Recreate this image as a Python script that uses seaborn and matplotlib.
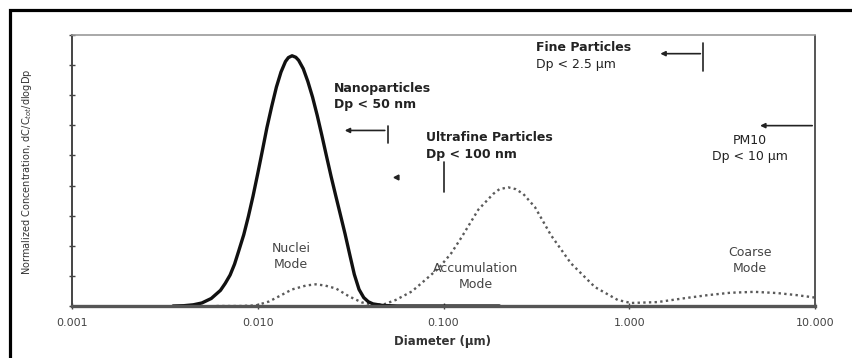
import matplotlib
matplotlib.use("Agg")
import matplotlib.pyplot as plt
from matplotlib.patches import Rectangle
import numpy as np
import pandas as pd
import seaborn as sns

# ---- data ----
nuclei_d = [0.0035, 0.0040, 0.0045, 0.0050, 0.00562, 0.0063, 0.00668, 0.0071, 0.0075, 0.0079,
            0.00841, 0.0089, 0.00944, 0.0100, 0.01059, 0.0112, 0.01189, 0.0126, 0.01334, 0.0141,
            0.01462, 0.0153, 0.01603, 0.0166, 0.01758, 0.0186, 0.01972, 0.0209, 0.02213, 0.0234,
            0.02483, 0.0263, 0.02786, 0.0295, 0.0313, 0.0331, 0.0351, 0.0372, 0.0394, 0.0417,
            0.0468, 0.0562, 0.100, 0.200]
nuclei_c = [0.0, 0.01, 0.04, 0.10, 0.25, 0.52, 0.75, 1.03, 1.39, 1.83,
            2.37, 2.97, 3.66, 4.40, 5.16, 5.92, 6.63, 7.27, 7.77, 8.12,
            8.25, 8.31, 8.26, 8.16, 7.88, 7.46, 6.94, 6.33, 5.67, 5.00,
            4.30, 3.66, 3.03, 2.40, 1.70, 1.05, 0.55, 0.28, 0.14, 0.07,
            0.02, 0.0, 0.0, 0.0]

mass_d = [0.0060, 0.0080, 0.0098, 0.0115, 0.0130, 0.0153, 0.0182, 0.0205, 0.0230, 0.0264,
          0.0310, 0.0363, 0.0420, 0.0480, 0.0553, 0.0674, 0.0762, 0.0940, 0.110, 0.125,
          0.154, 0.185, 0.200, 0.223, 0.245, 0.269, 0.311, 0.379, 0.485, 0.653,
          0.867, 1.02, 1.42, 1.99, 2.64, 3.50, 4.71, 6.25, 8.00, 10.0]
mass_c = [0.0, 0.0, 0.02, 0.15, 0.32, 0.55, 0.68, 0.72, 0.68, 0.58,
          0.32, 0.12, 0.04, 0.06, 0.20, 0.48, 0.76, 1.25, 1.75, 2.28,
          3.20, 3.72, 3.88, 3.94, 3.88, 3.72, 3.28, 2.35, 1.42, 0.63,
          0.20, 0.10, 0.13, 0.26, 0.36, 0.44, 0.47, 0.43, 0.36, 0.28]

x_ticks = [0.001, 0.01, 0.1, 1.0, 10.0]
x_tick_labels = ["0.001", "0.010", "0.100", "1.000", "10.000"]
y_ticks = list(range(0, 10))

cutoffs = {"nano": 0.05, "ultra": 0.1, "fine": 2.5, "pm10": 10.0}

sns.set_style("white")
plt.rcParams["font.family"] = ["DejaVu Sans"]

fig = plt.figure(figsize=(8.52, 3.58), dpi=100)
ax = fig.add_axes([72/852, 1-306/358, (815-72)/852, (306-35)/358])

df_n = pd.DataFrame({"d": nuclei_d, "c": nuclei_c})
df_m = pd.DataFrame({"d": mass_d, "c": mass_c})
sns.lineplot(data=df_m, x="d", y="c", ax=ax, color="#5a5a5a", lw=1.7,
             linestyle=(0, (1, 1.4)), sort=False)
sns.lineplot(data=df_n, x="d", y="c", ax=ax, color="#111111", lw=2.4, sort=False)

ax.set_xscale("log")
ax.set_xlim(0.001, 10.0)
ax.set_ylim(0, 9)
ax.set_xticks(x_ticks)
ax.set_xticklabels(x_tick_labels)
ax.xaxis.set_minor_locator(matplotlib.ticker.NullLocator())
ax.set_yticks(y_ticks)
ax.set_yticklabels([])
ax.tick_params(axis="both", direction="inout", length=5, width=1.0, color="#444444")
ax.tick_params(axis="x", labelsize=8, labelcolor="#444444", pad=6)
ax.tick_params(left=True, bottom=True)
ax.set_xlabel("")
ax.set_ylabel("")

ax.spines["left"].set_color("#444444"); ax.spines["left"].set_linewidth(1.4)
ax.spines["bottom"].set_color("#555555"); ax.spines["bottom"].set_linewidth(2.4)
ax.spines["top"].set_color("#999999"); ax.spines["top"].set_linewidth(1.2)
ax.spines["top"].set_linestyle((0, (2, 1)))
ax.spines["right"].set_color("#555555"); ax.spines["right"].set_linewidth(1.4)
ax.spines["right"].set_linestyle((0, (1.5, 1)))

tc = "#222222"
fs = 9
bold = dict(fontsize=fs, fontweight="bold", color=tc)
norm = dict(fontsize=fs, color="#444444")
arrow = dict(arrowstyle="-|>", color=tc, lw=1.2, mutation_scale=7)

# Nanoparticles
ax.text(0.0257, 7.45, "Nanoparticles\nDp < 50 nm", va="top", ha="left", linespacing=1.35, **bold)
ax.plot([cutoffs["nano"]] * 2, [5.40, 5.99], color=tc, lw=1.2)
ax.annotate("", xy=(0.0284, 5.83), xytext=(cutoffs["nano"], 5.83), arrowprops=arrow)
# Ultrafine
ax.text(0.0802, 5.80, "Ultrafine Particles\nDp < 100 nm", va="top", ha="left", linespacing=1.35, **bold)
ax.plot([cutoffs["ultra"]] * 2, [3.77, 4.77], color=tc, lw=1.2)
ax.plot([0.0553], [4.27], marker="<", color=tc, ms=3.5, ls="none")
# Fine
ax.text(0.3155, 8.80, "Fine Particles", va="top", ha="left", **bold)
ax.text(0.3155, 8.25, "Dp < 2.5 μm", va="top", ha="left", fontsize=fs, color=tc)
ax.plot([cutoffs["fine"]] * 2, [7.81, 8.74], color=tc, lw=1.2)
ax.annotate("", xy=(1.42, 8.38), xytext=(cutoffs["fine"], 8.38), arrowprops=arrow)
# PM10
ax.text(4.48, 5.72, "PM10\nDp < 10 μm", va="top", ha="center", linespacing=1.35,
        fontsize=fs, color=tc)
ax.annotate("", xy=(4.89, 5.99), xytext=(cutoffs["pm10"], 5.99), arrowprops=arrow)

# Mode labels
ax.text(0.0151, 2.14, "Nuclei\nMode", ha="center", va="top", linespacing=1.3, **norm)
ax.text(0.1486, 1.46, "Accumulation\nMode", ha="center", va="top", linespacing=1.3, **norm)
ax.text(4.48, 1.98, "Coarse\nMode", ha="center", va="top", linespacing=1.3, **norm)

fig.text(27/852, 1-172/358, "Normalized Concentration, dC/C$_{tot}$/dlogDp", rotation=90,
         ha="center", va="center", fontsize=7, color="#333333")
fig.text(443/852, 1-341/358, "Diameter (μm)", ha="center", va="center", fontsize=8.5,
         fontweight="bold", color="#333333")

fig.add_artist(Rectangle((9.5/852, -0.2), 1.2, 1.2 - 9.5/358, transform=fig.transFigure,
                         fill=False, lw=2.3, ec="black"))

fig.savefig("out.png", dpi=100, facecolor="white")
